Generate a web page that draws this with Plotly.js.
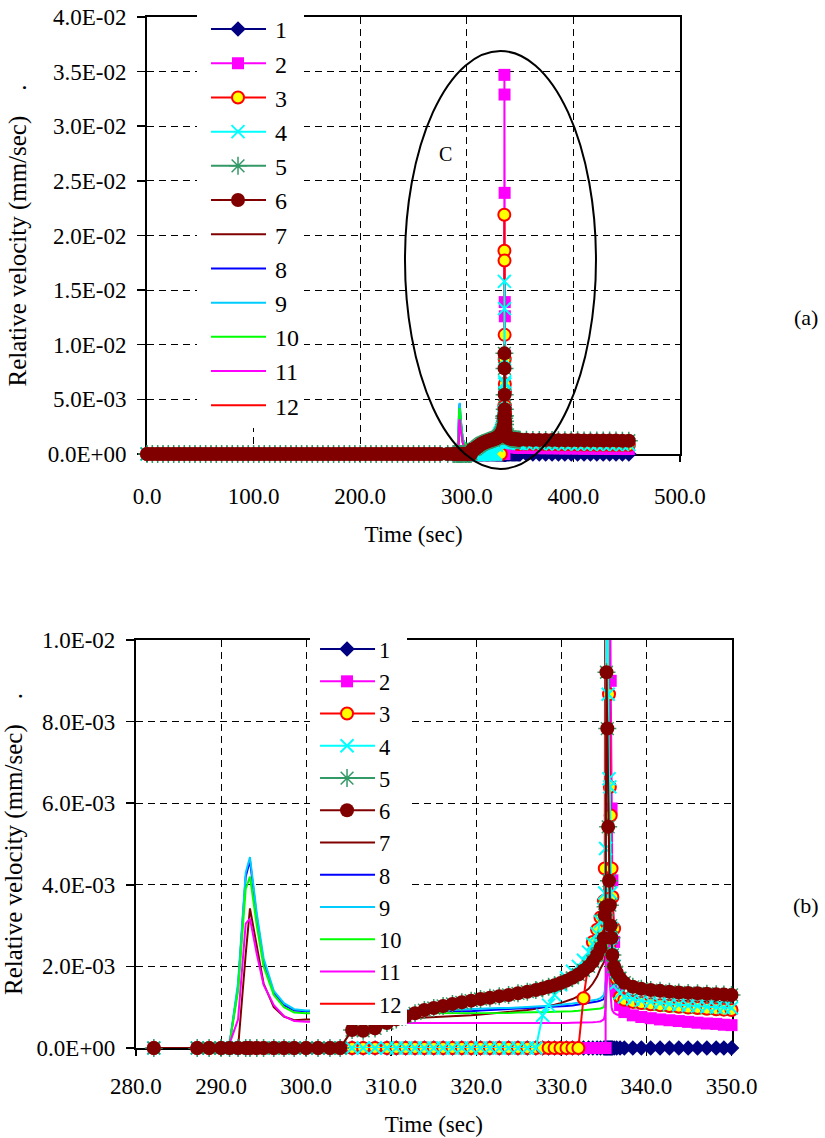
<!DOCTYPE html>
<html><head><meta charset="utf-8">
<script src="https://cdn.plot.ly/plotly-3.0.1.min.js"></script>
<style>html,body{margin:0;padding:0;background:#fff}</style>
</head><body><div id="chart" style="width:825px;height:1138px"></div>
<script>
// ---------------- DATA ----------------
const seriesNames = ['1','2','3','4','5','6','7','8','9','10','11','12'];

// time (sec), before the event: every series is at rest
const timeEarly = [0,5,10,15,20,25,30,35,40,45,50,55,60,65,70,75,80,85,90,95,
  100,105,110,115,120,125,130,135,140,145,150,155,160,165,170,175,180,185,190,195,
  200,205,210,215,220,225,230,235,240,245,250,255,260,265,270,275];
const velEarly = [0,0,0,0,0,0,0,0,0,0,0,0,0,0,0,0,0,0,0,0,
  0,0,0,0,0,0,0,0,0,0,0,0,0,0,0,0,0,0,0,0,
  0,0,0,0,0,0,0,0,0,0,0,0,0,0,0,0];

// time (sec) from 282 s on
const timeLate = [
  282.1,287.2,288.6,290.0,291.0,292.0,292.9,293.4,294.2,295.0,296.2,297.4,298.6,300.0,301.4,302.8,304.0,
  305.4,306.7,308.1,309.5,310.6,311.7,312.8,313.9,315.0,316.1,317.2,318.3,319.4,320.5,321.6,322.7,
  323.8,324.9,326.0,327.0,327.8,328.5,329.2,329.9,330.6,331.3,332.0,332.6,333.2,333.7,334.2,334.6,
  335.0,335.1,335.2,335.3,335.4,335.5,335.6,335.7,335.8,335.9,336.0,336.2,336.5,336.9,
  337.4,338.4,339.4,340.5,341.6,342.7,343.8,344.9,346.0,347.1,348.2,349.1,350.0,
  356,362,368,374,380,386,392,398,404,410,416,422,428,434,440,446,452];

// relative velocity, in 1e-3 mm/sec (converted to mm/sec when plotted)
const v1 = [
  0,0,0,0,0,0,0,0, 0,0,0,0,0,0,0,0, 0,
  0,0,0,0,0,0,0,0, 0,0,0,0,0,0,0,0, 0,0,0,0,0,0,0,0, 0,0,0,0,0,0,0,0,
  0,0,0,0,0,0,0,0,0,0,0,0,0,0,
  0,0,0,0,0,0,0,0,0,0,0,0,0,
  0,0,0,0,0,0,0,0, 0,0,0,0,0,0,0,0, 0];
const v2 = [
  0,0,0,0,0,0,0,0, 0,0,0,0,0,0,0,0, 0,
  0,0,0,0,0,0,0,0, 0,0,0,0,0,0,0,0, 0,0,0,0,0,0,0,0, 0,0,0,0,0,0,0,0,
  0,0,0,34.7,32.9,23.9,13.9,12.6,9.0,5.87,4.11,2.6,1.4,1.05,
  0.88,0.8,0.76,0.73,0.7,0.68,0.66,0.64,0.62,0.6,0.59,0.57,0.56,
  0.55,0.54,0.53,0.52,0.52,0.51,0.5,0.5,0.49,0.48,0.48,0.47,0.47,0.46,0.46,0.45,0.45];
const v3 = [
  0,0,0,0,0,0,0,0, 0,0,0,0,0,0,0,0, 0,
  0,0,0,0,0,0,0,0, 0,0,0,0,0,0,0,0, 0,0,0,0,0,0,0,0, 0,0,0,1.22,2.1,2.6,2.9,3.2,
  3.6,4.4,21.9,18.6,17.7,10.9,8.67,6.4,5.7,4.4,3.7,2.93,1.7,1.25,
  1.18,1.13,1.1,1.07,1.05,1.03,1.01,0.99,0.98,0.96,0.95,0.94,0.93,
  0.92,0.91,0.9,0.89,0.88,0.87,0.86,0.86,0.85,0.84,0.84,0.83,0.83,0.82,0.82,0.81,0.81];
const v4 = [
  0,0,0,0,0,0,0,0, 0,0,0,0,0,0,0,0, 0,
  0,0,0,0,0,0,0,0, 0,0,0,0,0,0,0,0, 0,0,0,0,0.8,1.05,1.3,1.55, 1.72,1.88,2.0,2.15,2.35,2.55,2.8,3.1,
  3.4,3.8,4.89,15.8,13.3,8.67,6.6,6.4,3.8,2.93,2.5,2.0,1.6,1.35,
  1.25,1.2,1.16,1.13,1.1,1.08,1.06,1.04,1.03,1.01,1.0,0.99,0.98,
  0.97,0.96,0.95,0.94,0.93,0.93,0.92,0.91,0.91,0.9,0.9,0.89,0.89,0.88,0.88,0.87,0.87];
const v5 = [
  0,0,0,0,0,0,0,0, 0,0,0,0,0,0,0,0, 0,
  0.44,0.42,0.48,0.61,0.7,0.77,0.85,0.93, 0.98,1.03,1.08,1.12,1.16,1.2,1.23,1.27,
  1.3,1.34,1.38,1.42,1.46,1.5,1.54,1.59, 1.65,1.72,1.8,1.9,2.0,2.12,2.28,2.45,
  2.69,3.26,3.46,9.21,7.83,5.42,4.1,3.5,3.0,2.7,2.28,2.0,1.85,1.71,
  1.6,1.5,1.45,1.42,1.4,1.38,1.36,1.35,1.34,1.33,1.32,1.31,1.3,
  1.29,1.28,1.28,1.27,1.27,1.26,1.26,1.25,1.25,1.24,1.24,1.23,1.23,1.22,1.22,1.21,1.21];
const v6 = [
  0,0,0,0,0,0,0,0, 0,0,0,0,0,0,0,0, 0,
  0.44,0.42,0.48,0.61,0.7,0.77,0.85,0.93, 0.98,1.03,1.08,1.12,1.16,1.2,1.23,1.27,
  1.3,1.34,1.38,1.42,1.46,1.5,1.54,1.59, 1.65,1.72,1.8,1.9,2.0,2.12,2.28,2.45,
  2.69,3.26,3.46,9.21,7.83,5.42,4.1,3.5,3.0,2.7,2.28,2.0,1.85,1.71,
  1.6,1.5,1.45,1.42,1.4,1.38,1.36,1.35,1.34,1.33,1.32,1.31,1.3,
  1.29,1.28,1.28,1.27,1.27,1.26,1.26,1.25,1.25,1.24,1.24,1.23,1.23,1.22,1.22,1.21,1.21];
const v7 = [
  0,0,0,0,0,0,2.3,3.42,2.5,1.58,1.0,0.77,0.68,0.7,0.7,0.7,0.7,
  0.7,0.7,0.7,0.7,0.71,0.72,0.73,0.74, 0.75,0.76,0.77,0.78,0.8,0.82,0.84,0.86,
  0.88,0.9,0.93,0.96,0.99,1.02,1.06,1.1, 1.15,1.2,1.27,1.35,1.45,1.58,1.75,1.95,
  2.1,2.2,2.3,2.4,2.3,2.1,1.9,1.7,1.55,1.45,1.38,1.32,1.28,1.25,
  1.22,1.2,1.19,1.18,1.17,1.16,1.15,1.15,1.14,1.14,1.13,1.13,1.12,
  1.11,1.1,1.1,1.09,1.09,1.08,1.08,1.07,1.07,1.06,1.06,1.05,1.05,1.04,1.04,1.03,1.03];
const v8 = [
  0,0,0,0,0.1,1.5,4.2,4.6,3.2,2.1,1.35,1.05,0.92,0.9,0.9,0.9,0.9,
  0.9,0.9,0.9,0.9,0.9,0.9,0.9,0.9, 0.9,0.9,0.9,0.9,0.9,0.92,0.93,0.94,
  0.95,0.96,0.97,0.98,0.99,1.0,1.01,1.02, 1.03,1.04,1.06,1.08,1.1,1.12,1.14,1.16,
  1.2,1.3,1.5,1.8,2.3,2.9,2.6,2.2,1.9,1.7,1.6,1.5,1.42,1.36,
  1.3,1.24,1.19,1.15,1.12,1.09,1.07,1.05,1.03,1.01,0.99,0.97,0.96,
  0.95,0.94,0.93,0.93,0.92,0.91,0.91,0.9,0.9,0.89,0.89,0.88,0.88,0.87,0.87,0.86,0.86];
const v9 = [
  0,0,0,0,0.1,1.6,4.3,4.68,3.3,2.2,1.4,1.1,0.95,0.92,0.92,0.92,0.92,
  0.92,0.92,0.92,0.92,0.92,0.92,0.92,0.92, 0.92,0.93,0.94,0.95,0.96,0.97,0.97,0.98,
  0.98,0.99,1.0,1.01,1.02,1.03,1.04,1.06, 1.07,1.09,1.11,1.13,1.15,1.17,1.19,1.22,
  1.3,1.4,1.6,2.0,2.5,3.0,2.7,2.3,2.0,1.8,1.68,1.57,1.5,1.45,
  1.35,1.28,1.23,1.19,1.16,1.13,1.1,1.08,1.06,1.04,1.02,1.0,0.98,
  0.97,0.96,0.95,0.95,0.94,0.93,0.93,0.92,0.92,0.91,0.91,0.9,0.9,0.89,0.89,0.88,0.88];
const v10 = [
  0,0,0,0,0.1,1.4,3.9,4.2,3.0,2.0,1.3,1.0,0.87,0.85,0.85,0.85,0.85,
  0.85,0.85,0.85,0.85,0.85,0.85,0.85,0.85, 0.85,0.85,0.85,0.85,0.85,0.85,0.86,0.86,
  0.86,0.87,0.87,0.87,0.88,0.88,0.89,0.89, 0.9,0.9,0.91,0.92,0.93,0.94,0.95,0.97,
  1.0,1.1,1.3,1.6,2.1,2.6,2.3,1.9,1.6,1.4,1.3,1.2,1.14,1.1,
  1.05,1.0,0.97,0.94,0.92,0.9,0.88,0.87,0.85,0.84,0.83,0.82,0.81,
  0.8,0.79,0.79,0.78,0.78,0.77,0.77,0.76,0.76,0.75,0.75,0.75,0.74,0.74,0.74,0.73,0.73];
const v11 = [
  0,0,0,0,0.1,0.7,3.05,3.17,2.3,1.55,1.05,0.78,0.66,0.64,0.64,0.63,0.63,
  0.63,0.62,0.62,0.62,0.61,0.61,0.61,0.61, 0.6,0.6,0.6,0.6,0.6,0.6,0.6,0.6,
  0.6,0.6,0.6,0.6,0.6,0.61,0.61,0.61, 0.61,0.62,0.62,0.62,0.63,0.63,0.64,0.65,
  0.7,0.8,1.0,1.4,1.8,2.2,1.9,1.5,1.2,1.0,0.92,0.86,0.82,0.8,
  0.77,0.75,0.73,0.72,0.71,0.7,0.69,0.68,0.67,0.67,0.66,0.66,0.65,
  0.65,0.64,0.64,0.63,0.63,0.63,0.62,0.62,0.62,0.61,0.61,0.61,0.6,0.6,0.6,0.6,0.59];
const v12 = [
  0,0,0,0,0,0,0,0, 0,0,0,0,0,0,0,0, 0,
  0,0,0,0,0,0,0,0, 0,0,0,0,0,0,0,0, 0,0,0,0,0,0,0,0, 0,0,0,0,0,0,0,0,
  0,0,0,0,0,0,0,0,0,0,0,0,0,0,
  0,0,0,0,0,0,0,0,0,0,0,0,0,
  0,0,0,0,0,0,0,0, 0,0,0,0,0,0,0,0, 0];
const seriesValues = [v1,v2,v3,v4,v5,v6,v7,v8,v9,v10,v11,v12];

// tick labels
const xTickTop = [0,100,200,300,400,500];
const xLabelTop = ['0.0','100.0','200.0','300.0','400.0','500.0'];
const yTickTop = [0,0.005,0.01,0.015,0.02,0.025,0.03,0.035,0.04];
const yLabelTop = ['0.0E+00','5.0E-03','1.0E-02','1.5E-02','2.0E-02','2.5E-02','3.0E-02','3.5E-02','4.0E-02'];
const xTickBot = [280,290,300,310,320,330,340,350];
const xLabelBot = ['280.0','290.0','300.0','310.0','320.0','330.0','340.0','350.0'];
const yTickBot = [0,0.002,0.004,0.006,0.008,0.01];
const yLabelBot = ['0.0E+00','2.0E-03','4.0E-03','6.0E-03','8.0E-03','1.0E-02'];

// ---------------- STYLE ----------------
const FONT = 'Liberation Serif, Times New Roman, serif';
const styles = [
  {color:'#000080', symbol:'diamond', size:12},
  {color:'#FF00FF', symbol:'square', size:12},
  {color:'#FF0000', symbol:'circle', size:12, fill:'#FFFF00', lw:2},
  {color:'#00FFFF', symbol:'x-thin-open', size:13, lw:2},
  {color:'#339966', symbol:'asterisk-open', size:15, lw:1.5},
  {color:'#800000', symbol:'circle', size:14},
  {color:'#800000'},
  {color:'#0000FF'},
  {color:'#00CCFF'},
  {color:'#00FF00'},
  {color:'#FF00FF'},
  {color:'#FF0000'}
];

seriesValues.forEach((v,i)=>{ if(v.length!==timeLate.length) throw new Error('series '+(i+1)+' length '+v.length); });

const tAll = timeEarly.concat(timeLate);
function makeTrace(i, which){
  const s = styles[i];
  let x = tAll, y = velEarly.concat(seriesValues[i]).map(v=>v/1000);
  if(which==='bot'){
    const xx=[], yy=[];
    x.forEach((t,k)=>{ if(t>=280 && t<=350){ xx.push(t); yy.push(y[k]); } });
    x=xx; y=yy;
  }
  const tr = {
    type:'scatter', x:x, y:y, name:seriesNames[i], legendrank:i+1,
    xaxis: which==='top'?'x':'x2', yaxis: which==='top'?'y':'y2',
    legend: which==='top'?'legend':'legend2',
    line:{color:s.color, width:2}, cliponaxis:false
  };
  if(s.symbol){
    tr.mode='lines+markers';
    tr.marker={symbol:s.symbol, size:s.size, color:s.fill||s.color,
      line:{color:s.color, width:s.lw||0}};
  } else {
    tr.mode='lines';
  }
  return tr;
}
// plain lines first, marker series on top (as in the original)
const order = [6,7,8,9,10,11,0,1,2,3,4,5];
const traces = [];
['top','bot'].forEach(w=>order.forEach(i=>traces.push(makeTrace(i,w))));

function axisX(dom, rng, tv, tt, anchor, lblOff){
  return {domain:dom, range:rng, anchor:anchor, tickmode:'array', tickvals:tv, ticktext:tt,
    showgrid:true, gridcolor:'#000', gridwidth:1, griddash:'7px,5px',
    showline:true, linecolor:'#000', linewidth:2, mirror:true,
    ticks:'outside', ticklen:6, tickcolor:'#000', tickwidth:1.5,
    zeroline:false, layer:'below traces', tickfont:{size:23, family:FONT, color:'#000'},
    ticklabelstandoff:lblOff,
    title:{text:'Time (sec)', font:{size:23, family:FONT, color:'#000'}, standoff:18}};
}
function axisY(dom, rng, tv, tt, anchor){
  return {domain:dom, range:rng, anchor:anchor, tickmode:'array', tickvals:tv, ticktext:tt,
    showgrid:true, gridcolor:'#000', gridwidth:1, griddash:'7px,5px',
    showline:true, linecolor:'#000', linewidth:2, mirror:true,
    ticks:'outside', ticklen:8, tickcolor:'#000', tickwidth:1.5,
    zeroline:false, layer:'below traces', tickfont:{size:23, family:FONT, color:'#000'},
    ticklabelstandoff:6,
    title:{text:'Relative velocity (mm/sec)\u00a0\u00a0\u00a0\u00a0.', font:{size:25, family:FONT, color:'#000'}, standoff:14}};
}

const layout = {
  width:825, height:1138, autosize:false,
  margin:{l:0,r:0,t:0,b:0}, paper_bgcolor:'#fff', plot_bgcolor:'#fff',
  font:{family:FONT, color:'#000', size:22},
  showlegend:true,
  xaxis: axisX([0.1782,0.8242],[0,500],xTickTop,xLabelTop,'y',14),
  yaxis: axisY([0.6011,0.9851],[0,0.04],yTickTop,yLabelTop,'x'),
  xaxis2: axisX([0.1648,0.8867],[280,350],xTickBot,xLabelBot,'y2',10),
  yaxis2: axisY([0.0791,0.4376],[0,0.01],yTickBot,yLabelBot,'x2'),
  legend:{x:0.2388, y:0.9939, xanchor:'left', yanchor:'top', bgcolor:'#fff', borderwidth:0,
    font:{size:24, family:FONT, color:'#000'}, itemwidth:68, tracegroupgap:0, traceorder:'normal'},
  legend2:{x:0.3758, y:0.4482, xanchor:'left', yanchor:'top', bgcolor:'#fff', borderwidth:0,
    font:{size:22.5, family:FONT, color:'#000'}, itemwidth:59, tracegroupgap:0, traceorder:'normal'},
  shapes:[{type:'circle', xref:'paper', yref:'paper', x0:0.4909, x1:0.7224, y0:0.5879, y1:0.9552,
    line:{color:'#000', width:2}, fillcolor:'rgba(0,0,0,0)', layer:'above'}],
  annotations:[
    {xref:'paper', yref:'paper', x:0.5406, y:0.8647, xanchor:'center', yanchor:'middle', text:'C', showarrow:false, font:{size:20, family:FONT, color:'#000'}},
    {xref:'paper', yref:'paper', x:0.977, y:0.7206, xanchor:'center', yanchor:'middle', text:'(a)', showarrow:false, font:{size:22, family:FONT, color:'#000'}},
    {xref:'paper', yref:'paper', x:0.977, y:0.2047, xanchor:'center', yanchor:'middle', text:'(b)', showarrow:false, font:{size:22, family:FONT, color:'#000'}}
  ]
};

Plotly.newPlot('chart', traces, layout, {staticPlot:true, displayModeBar:false}).then(gd=>{
  function tweak(cls, lineStart, markerX){
    const g = gd.querySelector('g.'+cls);
    if(!g) return;
    g.querySelectorAll('.legendlines path').forEach(p=>p.setAttribute('d','M'+lineStart+',0h55'));
    g.querySelectorAll('.legendpoints path.scatterpts').forEach(p=>p.setAttribute('transform','translate('+markerX+',0)'));
  }
  tweak('legend', 14, 41);
  tweak('legend2', 10, 37);
});
</script>
</body></html>
